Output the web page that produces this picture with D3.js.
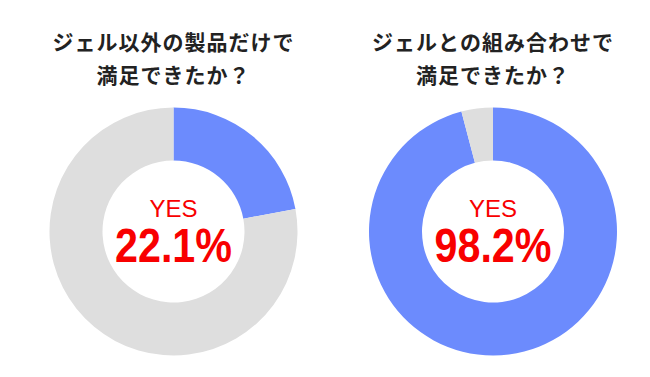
<!DOCTYPE html>
<html>
<head>
<meta charset="utf-8">
<script src="https://cdn.jsdelivr.net/npm/d3@7"></script>
<style>
  body { margin: 0; background: #fff; }
  svg { display: block; }
</style>
</head>
<body>
<div id="chart"></div>
<script>
var w = 650;
var h = 377;

// titles, two lines each
var titles = [
  ["ジェル以外の製品だけで", "満足できたか？"],
  ["ジェルとの組み合わせで", "満足できたか？"]
];
// labels shown in the centre
var yesLabels = ["22.1%", "98.2%"];
// slice shares as drawn (yes, other)
var yesShares = [22.1, 95.9];
var otherShares = [77.9, 4.1];

var colors = ["#6c8bfd", "#dedede"];

var svg = d3.select("#chart")
  .append("svg")
  .attr("width", w)
  .attr("height", h);

var x = d3.scalePoint()
  .domain([0, 1])
  .range([173.5, 493])
  .padding(0);

var cy = 231.5;
var pie = d3.pie().sort(null);
var arc = d3.arc().innerRadius(71).outerRadius(124);

var charts = svg.selectAll(".donut")
  .data([0, 1])
  .enter().append("g")
  .attr("class", "donut")
  .attr("transform", function(d) { return "translate(" + x(d) + "," + cy + ")"; });

charts.selectAll("path")
  .data(function(d) { return pie([yesShares[d], otherShares[d]]); })
  .enter().append("path")
  .attr("d", arc)
  .style("fill", function(d, i) { return colors[i]; });

charts.append("text")
  .attr("y", -15)
  .attr("text-anchor", "middle")
  .style("font-family", "'Liberation Sans', Arial, sans-serif")
  .style("font-size", "24px")
  .style("fill", "#f80000")
  .text("YES");

charts.append("text")
  .attr("y", 30)
  .attr("text-anchor", "middle")
  .attr("textLength", 117)
  .attr("lengthAdjust", "spacingAndGlyphs")
  .style("font-family", "'Liberation Sans', Arial, sans-serif")
  .style("font-weight", "bold")
  .style("font-size", "49px")
  .style("fill", "#f80000")
  .text(function(d) { return yesLabels[d]; });

// titles
var t = svg.selectAll(".title")
  .data([0, 1])
  .enter().append("text")
  .attr("class", "title")
  .attr("text-anchor", "middle")
  .style("font-family", "'Noto Sans CJK JP', sans-serif")
  .style("font-weight", "bold")
  .style("font-size", "21px")
  .style("letter-spacing", "1px")
  .style("fill", "#222");

t.selectAll("tspan")
  .data(function(d) { return titles[d].map(function(s) { return { s: s, c: x(d) }; }); })
  .enter().append("tspan")
  .attr("x", function(d) { return d.c; })
  .attr("y", function(d, i) { return 50 + i * 33; })
  .text(function(d) { return d.s; });
</script>
</body>
</html>
